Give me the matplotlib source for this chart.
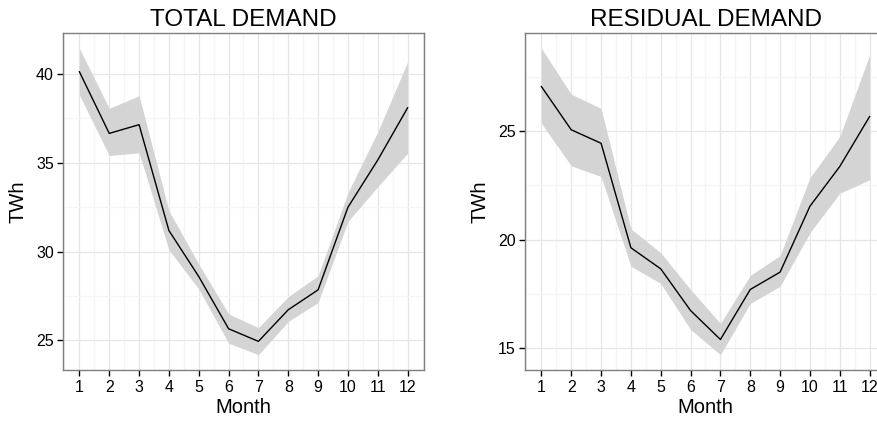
import numpy as np
import matplotlib.pyplot as plt

plt.rcParams['font.family'] = ['Liberation Sans', 'DejaVu Sans']

months = list(range(1, 13))

total_mean = [40.13, 36.66, 37.15, 31.19, 28.6, 25.66, 24.95, 26.73, 27.85, 32.5, 35.16, 38.1]
total_upper = [41.45, 38.07, 38.78, 32.31, 29.3, 26.5, 25.72, 27.47, 28.64, 33.32, 36.75, 40.69]
total_lower = [38.82, 35.41, 35.57, 30.1, 27.9, 24.85, 24.2, 26.07, 27.14, 31.7, 33.66, 35.54]

resid_mean = [27.04, 25.05, 24.43, 19.62, 18.65, 16.73, 15.4, 17.7, 18.5, 21.53, 23.36, 25.66]
resid_upper = [28.8, 26.69, 26.03, 20.49, 19.39, 17.7, 16.14, 18.35, 19.26, 22.84, 24.74, 28.49]
resid_lower = [25.35, 23.39, 22.9, 18.77, 17.98, 15.86, 14.7, 17.06, 17.85, 20.31, 22.13, 22.75]

panels = [
    ('TOTAL DEMAND', total_mean, total_lower, total_upper, [25, 30, 35, 40]),
    ('RESIDUAL DEMAND', resid_mean, resid_lower, resid_upper, [15, 20, 25]),
]

fig = plt.figure(figsize=(8.78, 4.23), dpi=100)
# right panel runs slightly past the figure edge
positions = [
    [63 / 878, 1 - 370 / 423, 361 / 878, 337 / 423],
    [525 / 878, 1 - 370 / 423, 361 / 878, 337 / 423],
]

for (title, mean, lower, upper, yticks), pos in zip(panels, positions):
    ax = fig.add_axes(pos)
    ax.fill_between(months, lower, upper, color='#d4d4d4', lw=0, zorder=2)
    ax.plot(months, mean, color='black', lw=1.0, zorder=3)

    lo, hi = min(lower), max(upper)
    pad = (hi - lo) * 0.05
    ax.set_ylim(lo - pad, hi + pad)
    ax.set_xlim(1 - 0.55, 12 + 0.55)

    ax.set_xticks(months)
    ax.set_yticks(yticks)
    ax.xaxis.set_minor_locator(plt.FixedLocator(np.arange(0.5, 13, 1)))
    ax.yaxis.set_minor_locator(plt.FixedLocator(np.arange(yticks[0] - 2.5, yticks[-1] + 5, 5)))
    ax.grid(which='major', color='#e6e6e6', lw=0.9, zorder=0)
    ax.grid(which='minor', color='#f5f5f5', lw=0.9, zorder=0)
    ax.set_axisbelow(True)

    ax.tick_params(which='major', length=4, width=1, color='black',
                   labelsize=11.5)
    ax.tick_params(axis='x', pad=3.5)
    ax.tick_params(axis='y', pad=2.5)
    ax.tick_params(which='minor', length=0)
    for s in ax.spines.values():
        s.set_color('#7f7f7f')
        s.set_linewidth(1)

    ax.set_title(title, fontsize=17.5, pad=5)
    ax.set_xlabel('Month', fontsize=14.5, labelpad=2)
    ax.set_ylabel('TWh', fontsize=14.5)
    ax.yaxis.set_label_coords(-0.098, 0.5)

plt.savefig('out.png', dpi=100)
